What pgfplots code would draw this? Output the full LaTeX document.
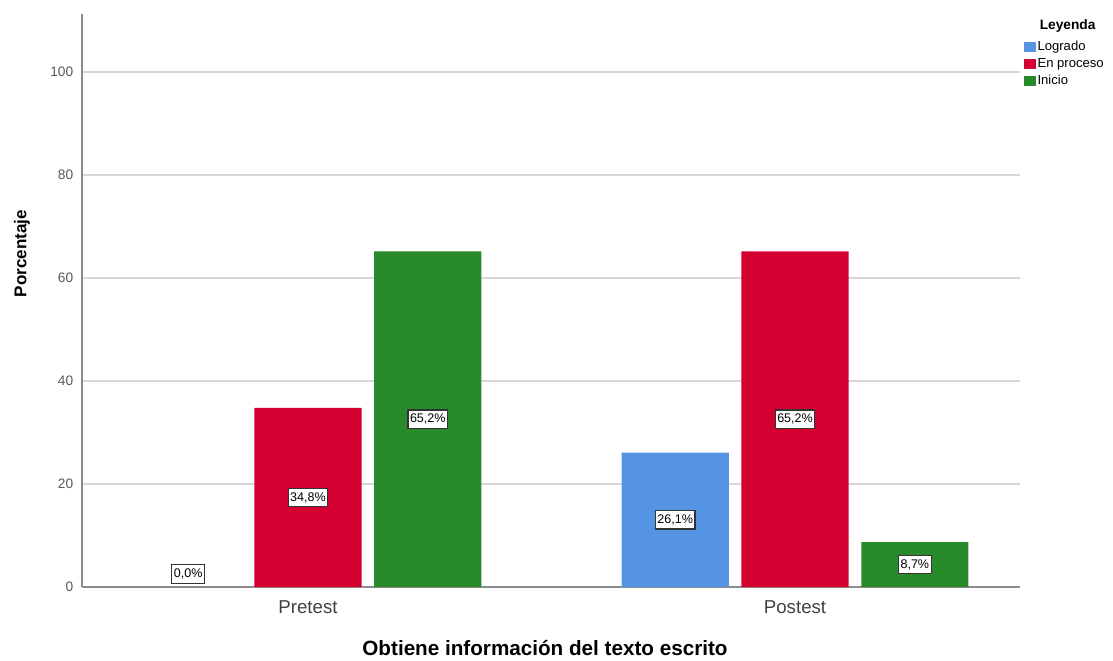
\documentclass[border=0pt]{standalone}
\usepackage{pgfplots}
\pgfplotsset{compat=1.18}
\usepackage{fontspec}
\setmainfont{Liberation Sans}

\definecolor{logrado}{RGB}{85,148,226}
\definecolor{proceso}{RGB}{213,0,50}
\definecolor{inicio}{RGB}{40,138,42}
\definecolor{gridc}{RGB}{215,215,215}
\definecolor{axc}{RGB}{140,140,140}

\begin{document}
\begin{tikzpicture}
\begin{axis}[
    scale only axis,
    width=703.5pt, height=429.75pt,
    xmin=-0.464, xmax=1.462,
    ymin=0, ymax=111.3,
    clip=false,
    axis x line*=bottom,
    axis y line*=left,
    axis line style={axc, line width=0.9pt, -},
    xtick={0,1},
    xticklabels={Pretest,Postest},
    ytick={0,20,40,60,80,100},
    major tick length=0pt,
    ymajorgrids,
    grid style={gridc, line width=1.1pt},
    /pgf/number format/assume math mode=true,
    yticklabel style={font=\fontsize{10.3}{11}\selectfont, text=black!65, xshift=-3pt},
    xticklabel style={font=\fontsize{14}{16}\selectfont, text=black!75, yshift=-6.5pt},
    every axis y label/.style={at={(rel axis cs:-0.064,0.582)}, rotate=90, anchor=center},
    every axis x label/.style={at={(rel axis cs:0.4936,-0.1065)}, anchor=center},
    ylabel={\fontsize{12.8}{15}\selectfont\bfseries Porcentaje},
    xlabel={\fontsize{15.5}{18}\selectfont\bfseries Obtiene información del texto escrito},
    legend style={at={(rel axis cs:1.0035,0.957)}, anchor=north west, draw=none, fill=none,
        inner sep=0pt, font=\fontsize{9.8}{11}\selectfont, row sep=1.5pt,
        nodes={inner sep=1.5pt}},
    legend cell align=left,
    legend image code/.code={\fill[#1] (0pt,-3.75pt) rectangle (9pt,3.75pt);},
]
\addplot[ybar, bar width=0.22, bar shift=-0.246, fill=logrado, draw=none] coordinates {(0,0) (1,26.1)};
\addlegendentry{Logrado}
\addplot[ybar, bar width=0.22, bar shift=0, fill=proceso, draw=none] coordinates {(0,34.8) (1,65.2)};
\addlegendentry{En proceso}
\addplot[ybar, bar width=0.22, bar shift=0.246, fill=inicio, draw=none] coordinates {(0,65.2) (1,8.7)};
\addlegendentry{Inicio}

% value labels at mid-height of each bar
\addplot[forget plot, draw=none, mark=none, nodes near coords, point meta=explicit symbolic,
    every node near coord/.style={anchor=center, fill=white, draw=black!80, line width=0.8pt,
        inner xsep=1.5pt, inner ysep=3pt, font=\fontsize{9.4}{10}\selectfont}]
    coordinates {
    (-0.246,2.5) [0,0\%]
    (0,17.4) [34,8\%]
    (0.246,32.6) [65,2\%]
    (0.754,13.05) [26,1\%]
    (1,32.6) [65,2\%]
    (1.246,4.35) [8,7\%]
};

\node[anchor=west, font=\fontsize{10.3}{12}\selectfont\bfseries] at (rel axis cs:1.016,0.979) {Leyenda};
\path (rel axis cs:-0.0874,-0.1257) rectangle (rel axis cs:1.0991,1.0244);
\end{axis}
\end{tikzpicture}
\end{document}
